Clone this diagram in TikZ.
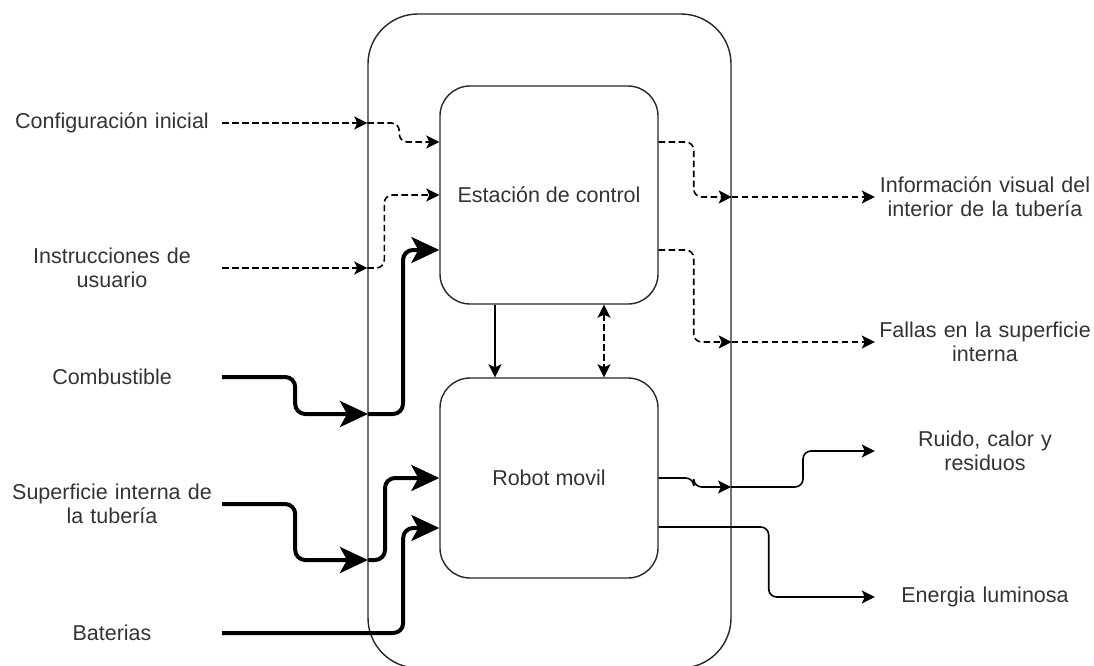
\documentclass[tikz,border=0pt]{standalone}
\usepackage{fontspec}
\setmainfont{Liberation Sans}
\usetikzlibrary{arrows.meta}
\begin{document}
\begin{tikzpicture}[x=1pt,y=-1pt,
  lbl/.style={font=\fontsize{21.5}{24}\selectfont, text=black!80, text width=220pt, align=center, inner sep=0pt},
  box/.style={draw=black!85, line width=1.4pt, rounded corners=30pt, minimum width=218pt, inner sep=0pt, font=\fontsize{21.5}{24}\selectfont, text=black!80},
  conn/.style={draw=black, line width=1.6pt, rounded corners=8pt, -{Stealth[length=13pt,width=13pt,inset=3pt]}},
  dconn/.style={conn, dash pattern=on 6.5pt off 3.5pt},
  fat/.style={draw=black, line width=4pt, rounded corners=10pt, -{Stealth[length=28pt,width=26pt,inset=7pt]}}
]
\useasboundingbox (0,0) rectangle (1094,666);
% system boundary
\node[draw=black!85, line width=1.4pt, rounded corners=50pt, minimum width=363pt, minimum height=654pt, inner sep=0pt] (sys) at (549.5,341) {};
% blocks
\node[box, minimum height=218pt] (est) at (549,195) {Estación de control};
\node[box, minimum height=200pt] (rob) at (549,478) {Robot movil};
% inputs
\node[lbl] (cfg) at (112,123) {Configuración inicial};
\node[lbl] (ins) at (112,268) {Instrucciones de\\usuario};
\node[lbl] (comb) at (112,377) {Combustible};
\node[lbl] (sup) at (112,504) {Superficie interna de\\la tubería};
\node[lbl] (bat) at (112,633) {Baterias};
% outputs
\node[lbl] (info) at (985,197) {Información visual del\\interior de la tubería};
\node[lbl] (fal) at (985,342) {Fallas en la superficie\\interna};
\node[lbl] (rui) at (985,451) {Ruido, calor y\\residuos};
\node[lbl] (ene) at (985,597) {Energia luminosa};
% crossing points on the boundary
\coordinate (bL1) at (sys.west |- cfg.east);
\coordinate (bL2) at (sys.west |- ins.east);
\coordinate (bL3) at (368,414);
\coordinate (bL4) at (368,560);
\coordinate (bR1) at (sys.east |- info.west);
\coordinate (bR2) at (sys.east |- fal.west);
\coordinate (bR3) at (731,487);
% input connectors
\draw[dconn] (cfg.east) -- (bL1);
\draw[dconn] (bL1) -- ++(32,0) |- ([yshift=53pt]est.west);
\draw[dconn] (ins.east) -- (bL2);
\draw[dconn] (bL2) -- ++(17,0) |- (est.west);
\draw[fat] (comb.east) -- ++(73,0) |- (bL3);
\draw[fat] (bL3) -- ++(35,0) |- ([yshift=-55pt]est.west);
\draw[fat] (sup.east) -- ++(73,0) |- (bL4);
\draw[fat] (bL4) -- ++(17,0) |- (rob.west);
\draw[fat] (bat.east) -- ++(181,0) |- ([yshift=-50pt]rob.west);
% output connectors
\draw[dconn] ([yshift=53pt]est.east) -- ++(35,0) |- (bR1);
\draw[dconn] (bR1) -- (info.west);
\draw[dconn] ([yshift=-55pt]est.east) -- ++(35,0) |- (bR2);
\draw[dconn] (bR2) -- (fal.west);
\draw[conn] (rob.east) -- ++(35,0) |- (bR3);
\draw[conn] (bR3) -- ++(72,0) |- (rui.west);
\draw[conn] ([yshift=-49pt]rob.east) -- ++(110,0) |- (ene.west);
% between blocks
\draw[conn] ([xshift=-54pt]est.south) -- ([xshift=-54pt]rob.north);
\draw[dconn, {Stealth[length=13pt,width=13pt,inset=3pt]}-{Stealth[length=13pt,width=13pt,inset=3pt]}] ([xshift=55pt]est.south) -- ([xshift=55pt]rob.north);
\end{tikzpicture}
\end{document}
